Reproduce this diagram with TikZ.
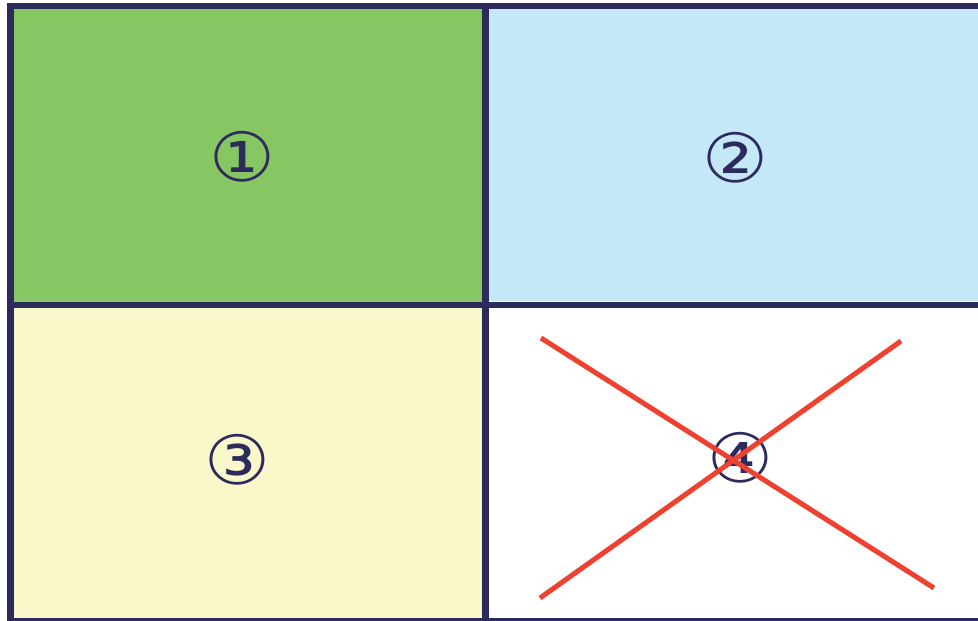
\documentclass[tikz,border=0pt]{standalone}
\usepackage{fontspec}
\newfontfamily\circfont{DejaVu Sans}
\usetikzlibrary{positioning}
\definecolor{marco}{HTML}{2C2B5C}
\definecolor{verde}{HTML}{86C764}
\definecolor{celeste}{HTML}{C5E8F9}
\definecolor{crema}{HTML}{FAF8CA}
\definecolor{rojo}{HTML}{EE4130}
\begin{document}
\begin{tikzpicture}[x=1pt,y=-1pt,
  numero/.style={text=marco,font=\circfont\fontsize{68}{70}\selectfont,inner sep=0pt,xscale=1.08}]
  \useasboundingbox (0,0) rectangle (978,621);
  % Llenamos las 4 celdas
  \fill[verde] (14,9) rectangle (482,302);
  \fill[celeste] (489,9) rectangle (978,301);
  \fill[crema] (14,308) rectangle (482,618);
  \fill[white] (489,308) rectangle (978,618);

  % Dibujamos el marco y las divisiones
  \draw[marco,line width=6] (7,6) -- (978,6);
  \draw[marco,line width=7] (10.5,3) -- (10.5,621);
  \draw[marco,line width=7] (485.5,3) -- (485.5,621);
  \draw[marco,line width=6] (7,305) -- (978,305);
  \draw[marco,line width=3] (7,619.5) -- (978,619.5);

  % Etiquetamos cada celda
  \node[numero] (n1) at (242,157) {①};
  \node[numero] (n2) at (735,158) {②};
  \node[numero] (n3) at (237,460) {③};
  \node[numero] (n4) at (740,458) {④};

  % Tachamos la celda 4
  \coordinate (a1) at (541,338);
  \coordinate (a2) at (934,588);
  \coordinate (b1) at (540,598);
  \coordinate (b2) at (901,341);
  \draw[rojo,line width=5] (a1) -- (a2);
  \draw[rojo,line width=5] (b1) -- (b2);
\end{tikzpicture}
\end{document}
